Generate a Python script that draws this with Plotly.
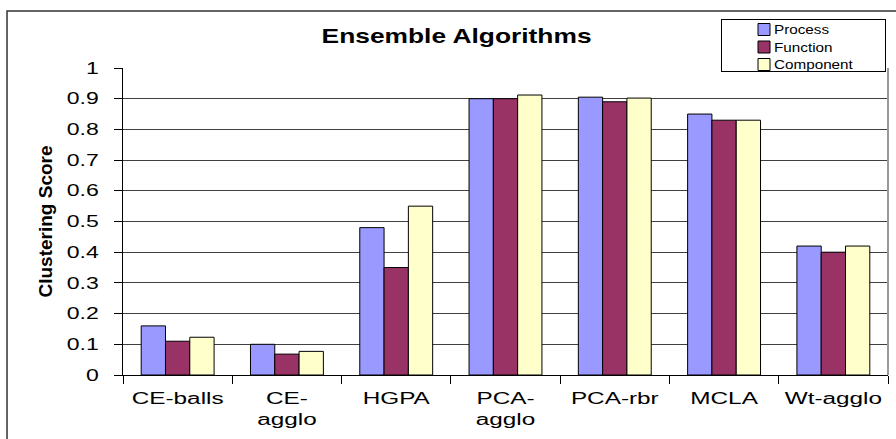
import plotly.graph_objects as go

# Category labels (line breaks as they wrap under each group)
algorithms = ["CE-balls", "CE-<br>agglo", "HGPA", "PCA-<br>agglo", "PCA-rbr", "MCLA", "Wt-agglo"]

# Clustering scores per view
process = [0.16, 0.10, 0.48, 0.90, 0.905, 0.85, 0.42]
function = [0.11, 0.068, 0.35, 0.90, 0.89, 0.83, 0.40]
component = [0.123, 0.077, 0.55, 0.912, 0.902, 0.83, 0.42]

y_ticks = [0, 0.1, 0.2, 0.3, 0.4, 0.5, 0.6, 0.7, 0.8, 0.9, 1]
y_tick_labels = ["0", "0.1", "0.2", "0.3", "0.4", "0.5", "0.6", "0.7", "0.8", "0.9", "1"]

series = [
    ("Process", process, "#9999FF"),
    ("Function", function, "#993366"),
    ("Component", component, "#FFFFCC"),
]

FONT = "Liberation Sans, Arial, Helvetica, sans-serif"

fig = go.Figure()
for name, values, color in series:
    fig.add_trace(go.Bar(
        name=name, x=algorithms, y=values,
        marker=dict(color=color, line=dict(color="black", width=1)),
    ))

fig.update_layout(
    width=896, height=439,
    margin=dict(l=123, r=8, t=68, b=64, autoexpand=False),
    paper_bgcolor="white", plot_bgcolor="white",
    barmode="group", bargap=0.333, bargroupgap=0,
    font=dict(family=FONT, color="black", size=16),
    showlegend=True,
    legend=dict(
        x=0.7817, y=1.1596, xanchor="left", yanchor="top",
        bgcolor="white", bordercolor="black", borderwidth=1,
        font=dict(size=12, family=FONT), itemwidth=42,
        traceorder="normal", tracegroupgap=0,
    ),
    xaxis=dict(
        type="category", range=[-0.5, 6.5], tickson="boundaries",
        ticks="outside", ticklen=8, tickcolor="black", tickwidth=1,
        showline=True, linecolor="black", linewidth=1,
        showgrid=False, tickfont=dict(size=16), ticklabelstandoff=9,
    ),
    yaxis=dict(
        range=[0, 1], tickvals=y_ticks, ticktext=y_tick_labels,
        ticks="outside", ticklen=8, tickcolor="black", tickwidth=1,
        showline=True, linecolor="black", linewidth=1,
        showgrid=True, gridcolor="#404040", gridwidth=1, zeroline=False,
        tickfont=dict(size=16), ticklabelstandoff=12,
        title=dict(text="<b>Clustering Score</b>", font=dict(size=19), standoff=18),
    ),
    annotations=[dict(
        text="<b>Ensemble Algorithms</b>", x=0.4366, y=1.106,
        xref="paper", yref="paper", xanchor="center", yanchor="middle",
        showarrow=False, font=dict(size=21, family=FONT),
    )],
    shapes=[
        # chart-area frame
        dict(type="rect", xref="paper", yref="paper",
             x0=-0.1516, x1=1.03, y0=-0.3, y1=1.1857,
             line=dict(color="#333333", width=1.5), layer="below"),
        # plot-area right border
        dict(type="line", xref="paper", yref="paper",
             x0=1, x1=1, y0=0, y1=1,
             line=dict(color="#999999", width=2)),
    ],
)

# Widen text glyphs horizontally to the chart's wide lettering,
# then size the legend box and its rows around the widened entries
post = """
(function(){
  var gd = document.getElementById('{plot_id}');
  function fit(sel, k){
    gd.querySelectorAll(sel).forEach(function(t){
      var lines = t.querySelectorAll('tspan.line');
      var els = lines.length ? Array.prototype.slice.call(lines) : [t];
      els.forEach(function(e){
        var w = e.getComputedTextLength();
        if (!w) return;
        e.setAttribute('textLength', (w * k).toFixed(1));
        e.setAttribute('lengthAdjust', 'spacingAndGlyphs');
      });
    });
  }
  fit('.xtick text', 1.52);
  fit('.ytick text', 1.44);
  fit('.legendtext', 1.27);
  fit('.annotation-text', 1.255);

  var lg = gd.querySelector('.legend');
  if (!lg) return;
  var bg = lg.querySelector('rect.bg');
  if (bg) { bg.setAttribute('width', 164); bg.setAttribute('height', 52); }
  var sb = lg.querySelector('.scrollbox');
  if (sb) sb.removeAttribute('clip-path');
  var items = lg.querySelectorAll('.traces');
  var y0 = null;
  items.forEach(function(it, i){
    var m = /translate\\(([-\\d.]+)[ ,]+([-\\d.]+)\\)/.exec(it.getAttribute('transform') || '');
    if (!m) return;
    var x = parseFloat(m[1]), y = parseFloat(m[2]);
    if (y0 === null) y0 = y;
    it.setAttribute('transform', 'translate(' + x + ',' + (y0 - 5 + 17.5 * i) + ')');
    var pts = it.querySelector('.legendpoints');
    if (pts) pts.setAttribute('transform', 'translate(16,0)');
  });
})();
"""

fig.write_html("out.html", post_script=post)
